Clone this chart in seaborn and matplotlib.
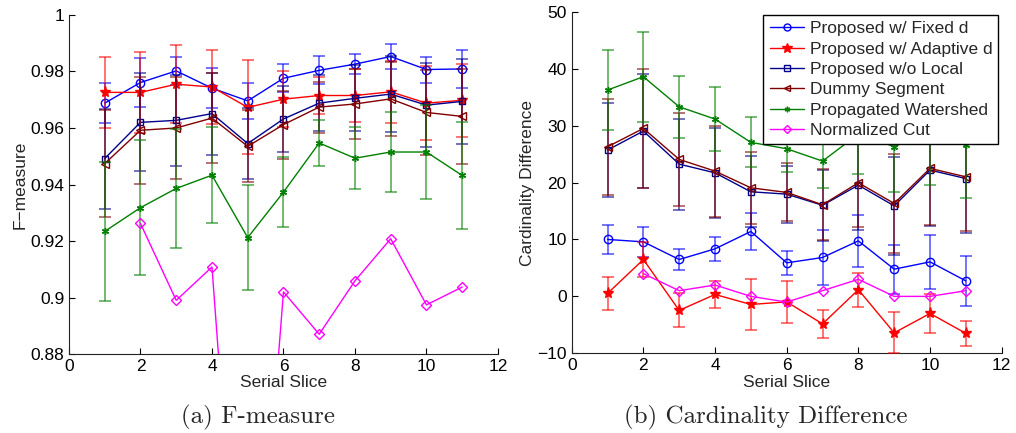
import numpy as np
import pandas as pd
import matplotlib
matplotlib.use("Agg")
import matplotlib.pyplot as plt
from matplotlib.ticker import FuncFormatter
from matplotlib.lines import Line2D
import seaborn as sns

slices = list(range(1, 12))
series_names = ["Proposed w/ Fixed d", "Proposed w/ Adaptive d", "Proposed w/o Local",
                "Dummy Segment", "Propagated Watershed", "Normalized Cut"]

# F-measure (left panel)
f_fixed = [0.9688, 0.9761, 0.9802, 0.9741, 0.9696, 0.9776, 0.9804, 0.9826, 0.9853, 0.9807, 0.9809]
f_fixed_err = [0.007, 0.0086, 0.005, 0.007, 0.0065, 0.005, 0.005, 0.0035, 0.0045, 0.0046, 0.0067]
f_adapt = [0.9726, 0.9726, 0.9755, 0.9745, 0.9673, 0.9702, 0.9715, 0.9715, 0.9728, 0.9688, 0.9698]
f_adapt_err = [0.0127, 0.0142, 0.0137, 0.013, 0.0166, 0.0098, 0.0067, 0.0093, 0.011, 0.013, 0.013]
f_local = [0.9492, 0.962, 0.9627, 0.9651, 0.9545, 0.9632, 0.9688, 0.9705, 0.972, 0.9681, 0.9694]
f_local_err = [0.0177, 0.0173, 0.016, 0.0145, 0.0125, 0.0118, 0.010, 0.0117, 0.0134, 0.0148, 0.015]
f_dummy = [0.9474, 0.9592, 0.960, 0.9635, 0.9535, 0.9612, 0.9674, 0.9685, 0.9703, 0.9655, 0.9641]
f_dummy_err = [0.019, 0.019, 0.018, 0.016, 0.0127, 0.012, 0.009, 0.0124, 0.013, 0.015, 0.0167]
f_water = [0.9234, 0.9318, 0.9386, 0.9433, 0.9212, 0.9373, 0.9547, 0.9493, 0.9515, 0.9515, 0.9432]
f_water_err = [0.0246, 0.024, 0.021, 0.017, 0.0185, 0.0124, 0.008, 0.011, 0.014, 0.0165, 0.019]
f_ncut = [np.nan, 0.9262, 0.899, 0.9108, 0.74, 0.902, 0.887, 0.9059, 0.9208, 0.8974, 0.9037]

# Cardinality difference (right panel)
c_fixed = [10.0, 9.58, 6.48, 8.35, 11.4, 5.89, 6.83, 9.75, 4.78, 6.06, 2.72]
c_fixed_err = [2.5, 2.6, 1.8, 2.1, 3.2, 2.1, 4.8, 4.6, 4.3, 4.8, 4.4]
c_adapt = [0.52, 6.48, -2.46, 0.34, -1.42, -0.96, -4.83, 1.18, -6.4, -3.0, -6.5]
c_adapt_err = [2.9, 3.0, 3.0, 2.4, 4.4, 3.7, 2.4, 3.0, 3.6, 3.5, 2.2]
c_local = [25.7, 29.03, 23.23, 21.7, 18.37, 17.96, 16.0, 19.54, 15.9, 22.18, 20.7]
c_local_err = [8.2, 10.0, 8.0, 7.9, 6.2, 5.0, 6.2, 7.8, 8.6, 9.9, 9.5]
c_dummy = [26.27, 29.5, 24.06, 22.0, 19.07, 18.26, 16.1, 19.95, 16.33, 22.48, 21.0]
c_dummy_err = [8.4, 10.4, 8.2, 8.0, 6.3, 5.1, 6.2, 7.8, 8.7, 9.9, 9.5]
c_water = [36.24, 38.58, 33.3, 31.14, 27.05, 25.93, 23.76, 28.5, 26.3, 29.0, 26.5]
c_water_err = [7.0, 7.9, 5.4, 5.55, 4.4, 4.0, 4.7, 7.0, 8.0, 9.5, 9.2]
c_ncut = [np.nan, 4, 1, 2, 0, -1, 1, 3, 0, 0, 1]

x_ticks = [0, 2, 4, 6, 8, 10, 12]
f_ticks = [0.88, 0.9, 0.92, 0.94, 0.96, 0.98, 1.0]
c_ticks = [-10, 0, 10, 20, 30, 40, 50]

colors = ["#0000ff", "#ff0000", "#00008b", "#800000", "#008000", "#ff00ff"]
asterisk = (6, 2, 0)
markers = ["o", "*", "s", "<", asterisk, "D"]
msizes = [6, 8, 5, 6, 5, 5]
mfill = ["none", "full", "none", "none", "full", "none"]

sns.set_style("ticks")
plt.rcParams["font.family"] = ["Liberation Sans", "DejaVu Sans"]
plt.rcParams["axes.unicode_minus"] = True

fig = plt.figure(figsize=(10.16, 4.33), dpi=100)
axL = fig.add_axes([0.0679, 0.1824, 0.4222, 0.7830])
axR = fig.add_axes([0.5627, 0.1840, 0.4232, 0.7890])


def draw(ax, means, errs):
    for i, name in enumerate(series_names):
        df = pd.DataFrame({"slice": slices, "value": means[i]})
        mfc = "none" if mfill[i] == "none" else colors[i]
        sns.lineplot(data=df, x="slice", y="value", ax=ax, color=colors[i],
                     marker=markers[i], markersize=msizes[i], markerfacecolor=mfc,
                     markeredgecolor=colors[i], markeredgewidth=1.0, linewidth=1.0,
                     label=name, zorder=3 + i, legend=False)
        if errs[i] is not None:
            ax.errorbar(slices, means[i], yerr=errs[i], fmt="none", ecolor=colors[i],
                        elinewidth=1.4, capsize=4, capthick=1.4, alpha=0.55, zorder=2 + i)


draw(axL, [f_fixed, f_adapt, f_local, f_dummy, f_water, f_ncut],
     [f_fixed_err, f_adapt_err, f_local_err, f_dummy_err, f_water_err, None])
draw(axR, [c_fixed, c_adapt, c_local, c_dummy, c_water, c_ncut],
     [c_fixed_err, c_adapt_err, c_local_err, c_dummy_err, c_water_err, None])

fmt = FuncFormatter(lambda v, p: ("%g" % v).replace("-", "\u2212"))
for ax, yt, ylab in [(axL, f_ticks, "F\u2212measure"), (axR, c_ticks, "Cardinality Difference")]:
    ax.set_xlim(0, 12)
    ax.set_ylim(yt[0], yt[-1])
    ax.set_xticks(x_ticks)
    ax.set_yticks(yt)
    ax.xaxis.set_major_formatter(fmt)
    ax.yaxis.set_major_formatter(fmt)
    ax.tick_params(direction="in", length=4, width=0.8, labelsize=12.5, colors="black")
    ax.set_xlabel("Serial Slice", fontsize=12.5, labelpad=1)
    ax.set_ylabel(ylab, fontsize=12.5, labelpad=2)
    sns.despine(ax=ax)
    for s in ["left", "bottom"]:
        ax.spines[s].set_linewidth(0.8)
        ax.spines[s].set_color("#222222")

leg_handles = []
for i, name in enumerate(series_names):
    mfc = "none" if mfill[i] == "none" else colors[i]
    leg_handles.append(Line2D([0], [0], color=colors[i], marker=markers[i],
                              markersize=msizes[i] - 1, markerfacecolor=mfc,
                              markeredgecolor=colors[i], linewidth=1.0))
leg = axR.legend(leg_handles, series_names, loc="upper right", fontsize=12.5,
                 frameon=True, fancybox=False, framealpha=1, edgecolor="black",
                 borderaxespad=0.2, handlelength=2.0, handletextpad=0.3,
                 labelspacing=0.3, borderpad=0.35)
leg.get_frame().set_linewidth(1.0)
leg.set_zorder(20)

fig.text(0.254, 0.037, "(a) F-measure", fontsize=18, family="cmr10", ha="center", va="center")
fig.text(0.754, 0.037, "(b) Cardinality Difference", fontsize=18, family="cmr10",
         ha="center", va="center")

fig.savefig("out.png", dpi=100)
